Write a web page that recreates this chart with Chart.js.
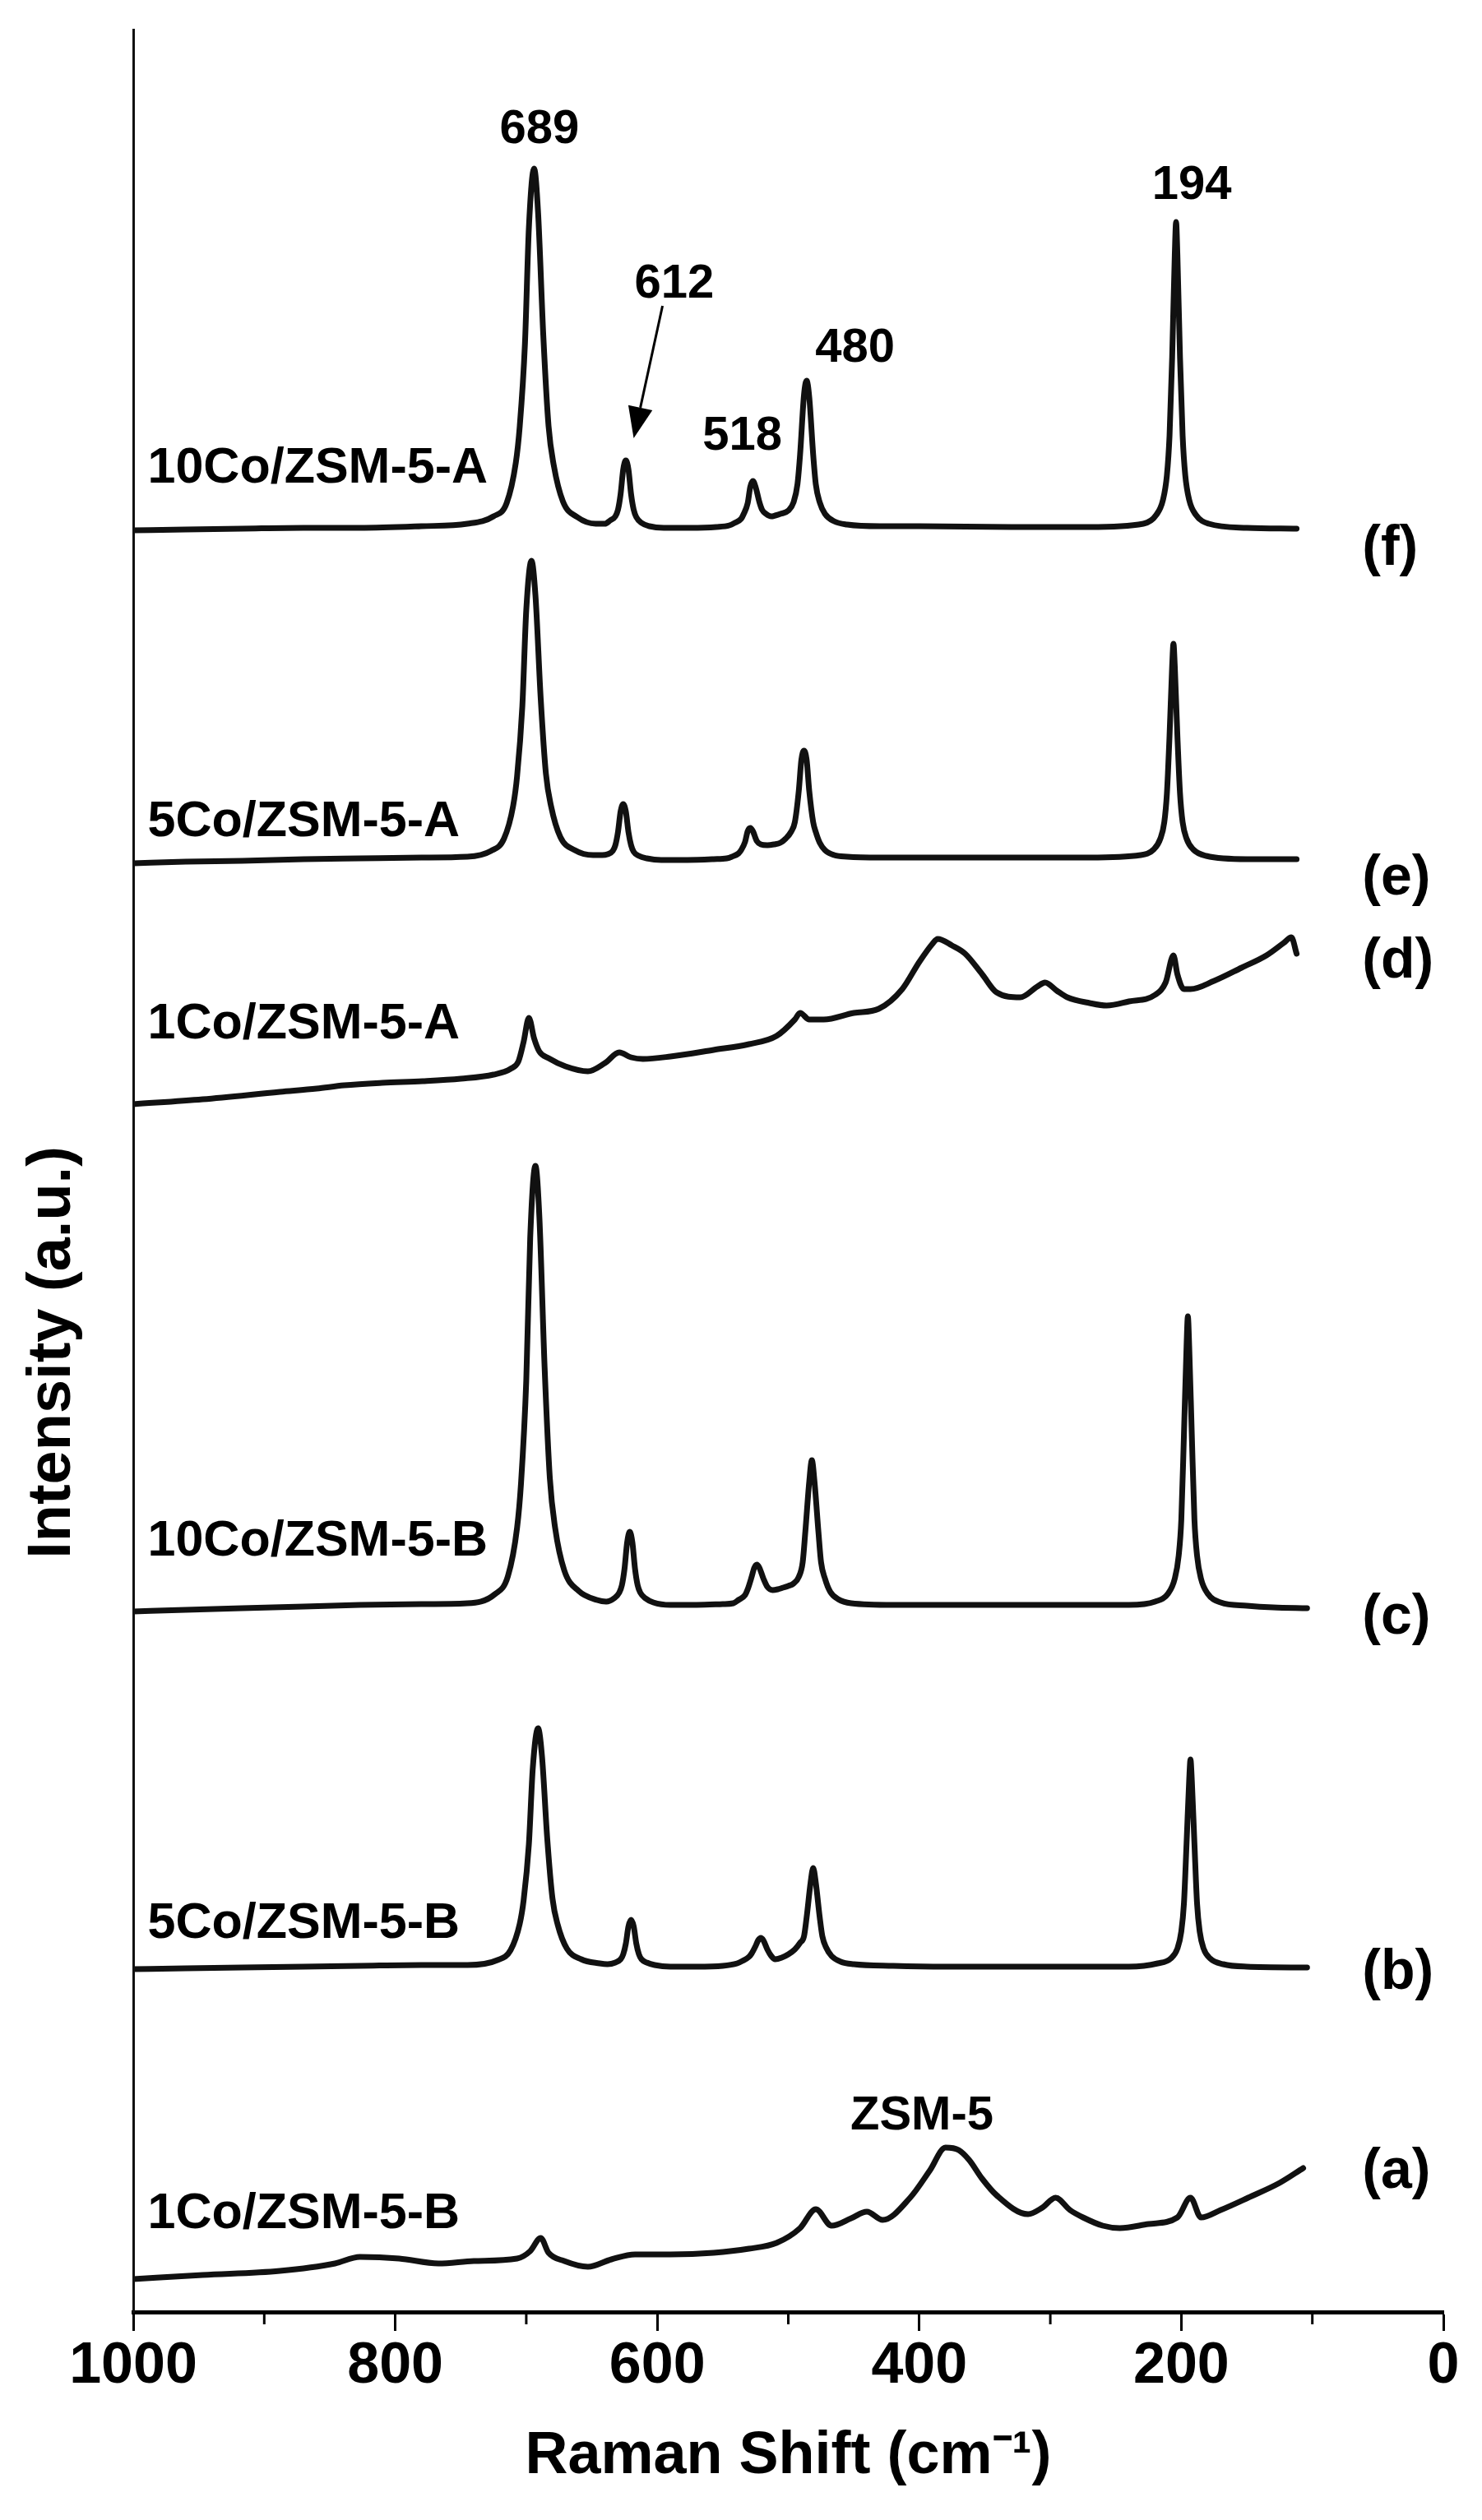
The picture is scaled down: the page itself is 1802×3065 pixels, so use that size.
<!DOCTYPE html>
<html>
<head>
<meta charset="utf-8">
<title>Raman spectra of Co/ZSM-5 catalysts</title>
<script src="https://cdn.jsdelivr.net/npm/chart.js@4.4.1/dist/chart.umd.min.js"></script>
<style>
  html, body { margin: 0; padding: 0; background: #ffffff; }
  #wrap { width: 1802px; height: 3065px; }
</style>
</head>
<body>
<div id="wrap"><canvas id="ramanChart" width="1802" height="3065"></canvas></div>
<script>
// spectra, bottom (a) to top (f); intensity is read relative to each trace's own baseline
const sampleNames = ["1Co/ZSM-5-B", "5Co/ZSM-5-B", "10Co/ZSM-5-B", "1Co/ZSM-5-A", "5Co/ZSM-5-A", "10Co/ZSM-5-A"];
const sampleTags = ["(a)", "(b)", "(c)", "(d)", "(e)", "(f)"];
const baseOffsets = [40, 417, 852, 1469, 1762, 2167];

const shiftA = [1000, 947, 888, 846, 827, 797, 767, 740, 707, 697, 689, 683, 671, 653, 635, 617, 590, 557, 530, 509, 491, 479, 467, 452, 440, 428, 407, 392, 380, 370, 362, 352, 341, 317, 306, 296, 285, 275, 260, 247, 225, 203, 193, 185, 170, 149, 125, 107];
const intA = [0, 5, 10, 19, 27, 25, 19, 22, 25, 34, 50, 32, 22, 15, 24, 30, 30, 32, 37, 44, 62, 85, 65, 74, 82, 72, 99, 132, 160, 157, 145, 122, 102, 79, 87, 99, 84, 75, 65, 62, 67, 75, 99, 75, 84, 99, 117, 135];

const shiftB = [1000, 960, 917, 870, 827, 780, 745, 722, 712, 705, 702, 698, 695, 691, 688, 684, 680, 676, 669, 658, 644, 638, 632, 628, 626, 624, 622, 620, 618, 616, 614, 612, 608, 602, 590, 570, 550, 539, 535, 530, 528, 525, 523, 521, 519, 516, 513, 510, 505, 500, 495, 491, 488, 486, 483, 481, 479, 476, 474, 471, 467, 460, 450, 420, 380, 330, 280, 240, 218, 208, 203, 200, 198, 196, 194, 193, 192, 190, 188, 186, 183, 178, 168, 150, 104];
const intB = [0, 1, 2, 3, 4, 5, 5, 11, 23, 55, 84, 152, 245, 293, 259, 159, 86, 54, 25, 12, 7, 6, 8, 12, 18, 31, 52, 60, 52, 31, 18, 12, 8, 5, 3, 3, 4, 7, 10, 15, 19, 28, 35, 38, 35, 24, 16, 12, 14, 18, 24, 32, 40, 63, 105, 123, 105, 63, 40, 26, 16, 9, 6, 4, 3, 3, 3, 3, 7, 13, 25, 46, 80, 153, 230, 255, 230, 153, 80, 46, 25, 13, 6, 3, 2];

const shiftC = [1000, 960, 917, 870, 827, 780, 745, 724, 714, 707, 704, 700, 697, 693, 690, 686, 682, 678, 671, 660, 646, 639, 633, 629, 627, 625, 623, 621, 619, 617, 615, 613, 609, 603, 590, 570, 550, 542, 538, 533, 531, 528, 526, 524, 522, 519, 516, 512, 508, 504, 500, 496, 492, 489, 487, 484, 482, 480, 477, 475, 472, 468, 462, 452, 420, 380, 330, 280, 240, 220, 210, 205, 202, 200, 198, 196, 195, 194, 192, 190, 188, 185, 180, 170, 150, 130, 104];
const intC = [0, 2, 4, 6, 8, 9, 10, 21, 43, 102, 156, 281, 454, 542, 480, 297, 162, 102, 50, 25, 14, 12, 16, 23, 32, 52, 84, 97, 84, 52, 32, 23, 16, 11, 8, 8, 9, 10, 14, 20, 27, 42, 53, 57, 53, 40, 30, 26, 27, 29, 31, 34, 42, 60, 97, 158, 184, 158, 97, 60, 40, 24, 15, 10, 8, 8, 8, 8, 8, 12, 22, 40, 68, 112, 215, 323, 359, 323, 215, 112, 68, 40, 22, 11, 7, 5, 4];

const shiftD = [1000, 947, 888, 860, 839, 810, 779, 750, 725, 712, 706, 702, 698, 694, 690, 683, 670, 653, 640, 629, 620, 611, 590, 557, 530, 509, 495, 491, 484, 473, 450, 431, 413, 400, 390, 386, 375, 365, 352, 341, 323, 310, 304, 295, 287, 270, 257, 240, 220, 212, 206, 203, 198, 193, 175, 154, 135, 122, 116, 112];
const intD = [0, 6, 15, 19, 23, 26, 28, 31, 36, 43, 52, 76, 105, 80, 64, 56, 46, 40, 50, 63, 57, 55, 58, 66, 73, 83, 103, 111, 103, 103, 111, 116, 140, 173, 195, 201, 193, 183, 158, 136, 130, 143, 148, 138, 130, 123, 120, 125, 133, 148, 181, 158, 140, 140, 150, 166, 181, 196, 203, 183];

const shiftE = [1000, 960, 917, 870, 827, 780, 745, 727, 717, 710, 707, 703, 700, 696, 693, 689, 685, 681, 674, 663, 649, 642, 638, 634, 632, 630, 628, 626, 624, 622, 620, 618, 614, 608, 597, 577, 557, 547, 543, 538, 536, 533, 531, 529, 527, 524, 521, 516, 511, 506, 502, 498, 495, 492, 490, 488, 486, 484, 481, 479, 476, 472, 465, 455, 430, 400, 330, 270, 231, 221, 216, 213, 211, 209, 207, 206, 205, 203, 201, 199, 196, 191, 181, 150, 112];
const intE = [0, 2, 3, 5, 6, 7, 8, 15, 30, 70, 106, 191, 308, 368, 326, 201, 109, 69, 32, 16, 10, 10, 11, 15, 22, 38, 63, 72, 63, 38, 22, 14, 9, 6, 4, 4, 5, 6, 8, 12, 16, 26, 39, 43, 39, 27, 23, 22, 23, 25, 30, 38, 50, 88, 126, 137, 126, 88, 50, 38, 25, 16, 10, 8, 7, 7, 7, 7, 10, 17, 30, 50, 85, 155, 240, 267, 240, 155, 85, 50, 30, 17, 9, 5, 5];

const shiftF = [1000, 960, 917, 870, 827, 780, 745, 725, 715, 708, 705, 701, 698, 694, 691, 687, 683, 679, 672, 661, 647, 640, 636, 632, 630, 628, 626, 624, 622, 620, 618, 616, 612, 606, 595, 575, 555, 545, 541, 536, 534, 531, 529, 527, 525, 522, 520, 517, 513, 510, 506, 500, 496, 493, 491, 488, 486, 484, 481, 479, 476, 472, 465, 455, 430, 400, 330, 270, 229, 219, 214, 211, 209, 207, 205, 204, 203, 201, 199, 197, 194, 189, 179, 150, 112];
const intF = [0, 1, 2, 3, 3, 5, 8, 17, 33, 82, 126, 227, 368, 440, 387, 237, 127, 79, 35, 16, 8, 8, 12, 17, 25, 44, 74, 85, 74, 44, 25, 16, 9, 5, 3, 3, 4, 6, 9, 14, 20, 33, 53, 60, 53, 34, 25, 20, 17, 18, 20, 24, 34, 56, 92, 165, 182, 162, 92, 56, 34, 20, 11, 7, 5, 5, 4, 4, 8, 19, 37, 67, 115, 210, 335, 375, 335, 210, 115, 67, 37, 19, 8, 3, 2];

const majorTicks = [1000, 800, 600, 400, 200, 0];
const minorTicks = [900, 700, 500, 300, 100];

// where the text sits, in chart units (shift, stacked intensity)
const nameAnchors = [102, 455, 920, 1549, 1795, 2225];
const tagAnchors = [170, 412, 844, 1642, 1743, 2144];
const peakLabels = [
  { text: "689", shift: 690, y: 2638 },
  { text: "612", shift: 587, y: 2450 },
  { text: "518", shift: 535, y: 2265 },
  { text: "480", shift: 449, y: 2372 },
  { text: "194", shift: 192, y: 2570 },
  { text: "ZSM-5", shift: 398, y: 222 }
];
const arrow612 = { fromShift: 596, fromY: 2440, toShift: 618, toY: 2279 };

const FONT = "'Liberation Sans', Arial, Helvetica, sans-serif";

function makePoints(shifts, values, offset) {
  let pts = [];
  for (let i = 0; i < shifts.length; i++) {
    pts.push({ x: shifts[i], y: values[i] + offset });
  }
  return pts;
}

let allShifts = [shiftA, shiftB, shiftC, shiftD, shiftE, shiftF];
let allInts = [intA, intB, intC, intD, intE, intF];
let datasets = [];
for (let i = 0; i < sampleNames.length; i++) {
  datasets.push({
    label: sampleNames[i],
    data: makePoints(allShifts[i], allInts[i], baseOffsets[i]),
    showLine: true,
    borderColor: "#111111",
    borderWidth: 7,
    pointRadius: 0,
    cubicInterpolationMode: "monotone",
    borderJoinStyle: "round",
    borderCapStyle: "round"
  });
}

const annotations = {
  id: "annotations",
  afterDraw(chart) {
    const ctx = chart.ctx;
    const xs = chart.scales.x;
    const ys = chart.scales.y;
    const area = chart.chartArea;
    ctx.save();
    ctx.fillStyle = "#000";
    ctx.strokeStyle = "#000";

    // minor ticks every 100 cm-1
    ctx.lineWidth = 3;
    minorTicks.forEach(v => {
      let px = xs.getPixelForValue(v);
      ctx.beginPath();
      ctx.moveTo(px, area.bottom);
      ctx.lineTo(px, area.bottom + 15);
      ctx.stroke();
    });

    // sample names on the left
    ctx.font = "bold 61px " + FONT;
    ctx.textAlign = "left";
    ctx.textBaseline = "alphabetic";
    sampleNames.forEach((name, i) => {
      ctx.fillText(name, xs.getPixelForValue(989), ys.getPixelForValue(nameAnchors[i]));
    });

    // (a)..(f) on the right
    ctx.font = "bold 68px " + FONT;
    ctx.textBaseline = "middle";
    sampleTags.forEach((tag, i) => {
      ctx.fillText(tag, xs.getPixelForValue(62), ys.getPixelForValue(tagAnchors[i]));
    });

    // peak labels
    ctx.font = "bold 58px " + FONT;
    ctx.textAlign = "center";
    ctx.textBaseline = "alphabetic";
    peakLabels.forEach(p => {
      ctx.fillText(p.text, xs.getPixelForValue(p.shift), ys.getPixelForValue(p.y));
    });

    // arrow to the 612 peak
    let x1 = xs.getPixelForValue(arrow612.fromShift), y1 = ys.getPixelForValue(arrow612.fromY);
    let x2 = xs.getPixelForValue(arrow612.toShift), y2 = ys.getPixelForValue(arrow612.toY);
    let ang = Math.atan2(y2 - y1, x2 - x1);
    let headLen = 38, headHalf = 15;
    let bx = x2 - headLen * Math.cos(ang), by = y2 - headLen * Math.sin(ang);
    ctx.lineWidth = 3;
    ctx.beginPath();
    ctx.moveTo(x1, y1);
    ctx.lineTo(bx, by);
    ctx.stroke();
    ctx.beginPath();
    ctx.moveTo(x2, y2);
    ctx.lineTo(bx + headHalf * Math.sin(ang), by - headHalf * Math.cos(ang));
    ctx.lineTo(bx - headHalf * Math.sin(ang), by + headHalf * Math.cos(ang));
    ctx.closePath();
    ctx.fill();

    // y axis title, placed below the middle like the original
    ctx.save();
    ctx.translate(area.left - 77, ys.getPixelForValue(1167));
    ctx.rotate(-Math.PI / 2);
    ctx.font = "bold 74px " + FONT;
    ctx.textAlign = "center";
    ctx.textBaseline = "alphabetic";
    ctx.fillText("Intensity (a.u.)", 0, 0);
    ctx.restore();

    ctx.restore();
  }
};

let ramanChart = new Chart(document.getElementById("ramanChart").getContext("2d"), {
  type: "scatter",
  data: { datasets: datasets },
  options: {
    responsive: false,
    animation: false,
    devicePixelRatio: 1,
    layout: { padding: { top: 36, right: 47, left: 0, bottom: 0 } },
    plugins: {
      legend: { display: false },
      tooltip: { enabled: false }
    },
    scales: {
      x: {
        type: "linear",
        reverse: true,
        min: 0,
        max: 1000,
        afterBuildTicks: scale => {
          scale.ticks = majorTicks.map(v => ({ value: v }));
        },
        afterFit: scale => { scale.height = 253; },
        ticks: {
          color: "#000",
          padding: 2,
          maxRotation: 0,
          callback: value => String(value),
          font: { family: FONT, size: 70, weight: "bold" }
        },
        grid: {
          display: true,
          drawOnChartArea: false,
          drawTicks: true,
          tickLength: 23,
          tickWidth: 3,
          tickColor: "#000"
        },
        border: { display: true, color: "#000", width: 5 },
        title: {
          display: true,
          text: "Raman Shift (cm\u207B\u00B9)",
          color: "#000",
          padding: { top: 0, bottom: 34 },
          font: { family: FONT, size: 72, weight: "bold" }
        }
      },
      y: {
        type: "linear",
        min: 0,
        max: 2776,
        afterFit: scale => { scale.width = 162; },
        ticks: { display: false },
        grid: { display: false },
        border: { display: true, color: "#111", width: 3 }
      }
    }
  },
  plugins: [annotations]
});
</script>
</body>
</html>
